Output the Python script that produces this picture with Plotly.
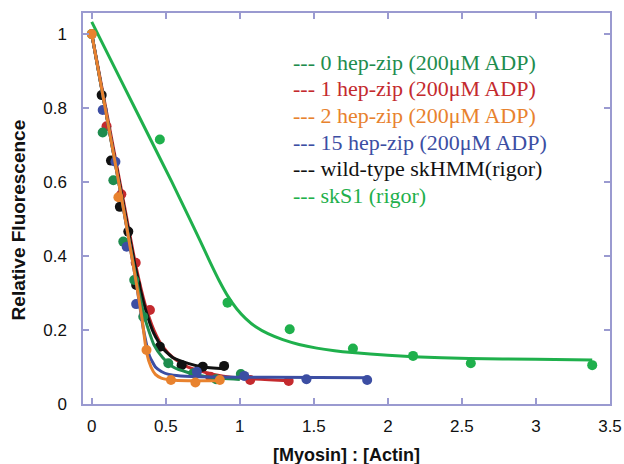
import plotly.graph_objects as go

# ---- data ----
# 0 hep-zip (200uM ADP) - dark green
g0_x = [0.0, 0.074, 0.146, 0.213, 0.287, 0.348, 0.517, 0.686, 0.84, 1.007]
g0_y = [1.0, 0.734, 0.605, 0.439, 0.335, 0.236, 0.11, 0.083, 0.067, 0.081]
g0_fx = [0, 0.1, 0.2, 0.3, 0.36, 0.42, 0.48, 0.55, 0.65, 0.8, 1.0]
g0_fy = [1.0, 0.78, 0.56, 0.34, 0.23, 0.16, 0.125, 0.10, 0.085, 0.072, 0.066]

# 1 hep-zip - red
r1_x = [0.10, 0.20, 0.297, 0.393, 0.80, 1.07, 1.33]
r1_y = [0.751, 0.567, 0.382, 0.254, 0.074, 0.065, 0.062]
r1_fx = [0, 0.1, 0.2, 0.3, 0.36, 0.42, 0.48, 0.55, 0.65, 0.8, 1.0, 1.33]
r1_fy = [1.0, 0.79, 0.58, 0.37, 0.27, 0.2, 0.155, 0.125, 0.1, 0.082, 0.07, 0.063]

# 2 hep-zip - orange
o2_x = [0.0, 0.18, 0.37, 0.535, 0.70, 0.865]
o2_y = [1.0, 0.559, 0.146, 0.065, 0.058, 0.065]
o2_fx = [0, 0.1, 0.2, 0.3, 0.34, 0.37, 0.40, 0.43, 0.47, 0.54, 0.65, 0.87]
o2_fy = [1.0, 0.78, 0.56, 0.33, 0.23, 0.14, 0.10, 0.08, 0.07, 0.065, 0.063, 0.063]

# 15 hep-zip - blue
b15_x = [0.074, 0.16, 0.236, 0.30, 0.71, 1.03, 1.45, 1.86]
b15_y = [0.795, 0.655, 0.425, 0.27, 0.087, 0.076, 0.067, 0.065]
b15_fx = [0, 0.1, 0.2, 0.3, 0.35, 0.39, 0.43, 0.47, 0.52, 0.6, 0.8, 1.2, 1.86]
b15_fy = [1.0, 0.78, 0.56, 0.33, 0.2, 0.13, 0.1, 0.088, 0.08, 0.076, 0.073, 0.072, 0.071]

# wild-type skHMM (rigor) - black
wt_x = [0.067, 0.13, 0.19, 0.247, 0.30, 0.46, 0.607, 0.75, 0.894]
wt_y = [0.835, 0.658, 0.533, 0.466, 0.322, 0.155, 0.105, 0.101, 0.103]
wt_fx = [0, 0.1, 0.2, 0.3, 0.36, 0.42, 0.48, 0.55, 0.65, 0.75, 0.9]
wt_fy = [1.0, 0.78, 0.57, 0.36, 0.26, 0.19, 0.15, 0.125, 0.11, 0.1, 0.095]

# skS1 (rigor) - bright green
s1_x = [0.46, 0.917, 1.337, 1.764, 2.17, 2.56, 3.38]
s1_y = [0.715, 0.274, 0.202, 0.150, 0.13, 0.11, 0.105]
s1_fx = [0, 0.2, 0.4, 0.54, 0.65, 0.73, 0.80, 0.86, 0.92, 0.98, 1.04, 1.11, 1.19,
         1.29, 1.40, 1.52, 1.64, 1.76, 2.0, 2.17, 2.55, 3.0, 3.38]
s1_fy = [1.033, 0.873, 0.713, 0.601, 0.51, 0.443, 0.383, 0.334, 0.291, 0.257, 0.231, 0.208, 0.19,
         0.174, 0.161, 0.151, 0.144, 0.139, 0.132, 0.128, 0.123, 0.121, 0.119]

legend_labels = [
    "--- 0 hep-zip (200\u03bcM ADP)",
    "--- 1 hep-zip (200\u03bcM ADP)",
    "--- 2 hep-zip (200\u03bcM ADP)",
    "--- 15 hep-zip (200\u03bcM ADP)",
    "--- wild-type skHMM(rigor)",
    "--- skS1 (rigor)",
]

x_ticks = [0, 0.5, 1, 1.5, 2, 2.5, 3, 3.5]
x_tick_text = ["0", "0.5", "1", "1.5", "2", "2.5", "3", "3.5"]
y_ticks = [0, 0.2, 0.4, 0.6, 0.8, 1]
y_tick_text = ["0", "0.2", "0.4", "0.6", "0.8", "1"]

# ---- styles ----
C_G0 = "#1e8c4e"
C_R1 = "#c42a2e"
C_O2 = "#e8822e"
C_B15 = "#3c4ea3"
C_WT = "#111111"
C_S1 = "#1fb04c"
AX = "#9a9ad0"
SANS = "Liberation Sans, Arial, sans-serif"
SERIF = "Liberation Serif, Times New Roman, serif"

series = [
    (s1_fx, s1_fy, s1_x, s1_y, C_S1),
    (r1_fx, r1_fy, r1_x, r1_y, C_R1),
    (wt_fx, wt_fy, wt_x, wt_y, C_WT),
    (g0_fx, g0_fy, g0_x, g0_y, C_G0),
    (b15_fx, b15_fy, b15_x, b15_y, C_B15),
    (o2_fx, o2_fy, o2_x, o2_y, C_O2),
]

fig = go.Figure()
for fx, fy, px, py, c in series:
    fig.add_trace(go.Scatter(x=fx, y=fy, mode="lines",
                             line=dict(color=c, width=3, shape="spline", smoothing=0.5),
                             showlegend=False, hoverinfo="skip"))
    fig.add_trace(go.Scatter(x=px, y=py, mode="markers",
                             marker=dict(color=c, size=10),
                             showlegend=False))

label_colors = [C_G0, C_R1, C_O2, C_B15, C_WT, C_S1]
for i, (t, c) in enumerate(zip(legend_labels, label_colors)):
    fig.add_annotation(x=1.349, y=0.924 - i * 0.072, xref="x", yref="y",
                       text=t, showarrow=False, xanchor="left", yanchor="middle",
                       font=dict(family=SERIF, size=22, color=c))

fig.add_annotation(x=0.5, y=-0.13, xref="paper", yref="paper",
                   text="<b>[Myosin] : [Actin]</b>", showarrow=False,
                   yanchor="middle", xanchor="center",
                   font=dict(family=SANS, size=18, color="#111"))
fig.add_annotation(x=-0.123, y=0.47, xref="paper", yref="paper",
                   text="<b>Relative Fluorescence</b>", showarrow=False, textangle=-90,
                   yanchor="middle", xanchor="center",
                   font=dict(family=SANS, size=19, color="#111"))

axis_common = dict(showline=True, linecolor=AX, linewidth=1.5, mirror="ticks",
                   ticks="inside", ticklen=6, tickcolor=AX, tickwidth=1.5,
                   showgrid=False, zeroline=False, automargin=False,
                   tickfont=dict(family=SANS, size=17, color="#111"))

fig.update_xaxes(range=[-0.059, 3.5], tickvals=x_ticks, ticktext=x_tick_text,
                 ticklabelstandoff=6, **axis_common)
fig.update_yaxes(range=[0, 1.057], tickvals=y_ticks, ticktext=y_tick_text,
                 ticklabelstandoff=11, **axis_common)

fig.update_layout(width=624, height=464,
                  margin=dict(l=83, r=14, t=13, b=60, autoexpand=False),
                  plot_bgcolor="white", paper_bgcolor="white")

fig.write_html("out.html", config={"displayModeBar": False},
               post_script="document.body.style.margin='0px';document.body.style.overflow='hidden';")
